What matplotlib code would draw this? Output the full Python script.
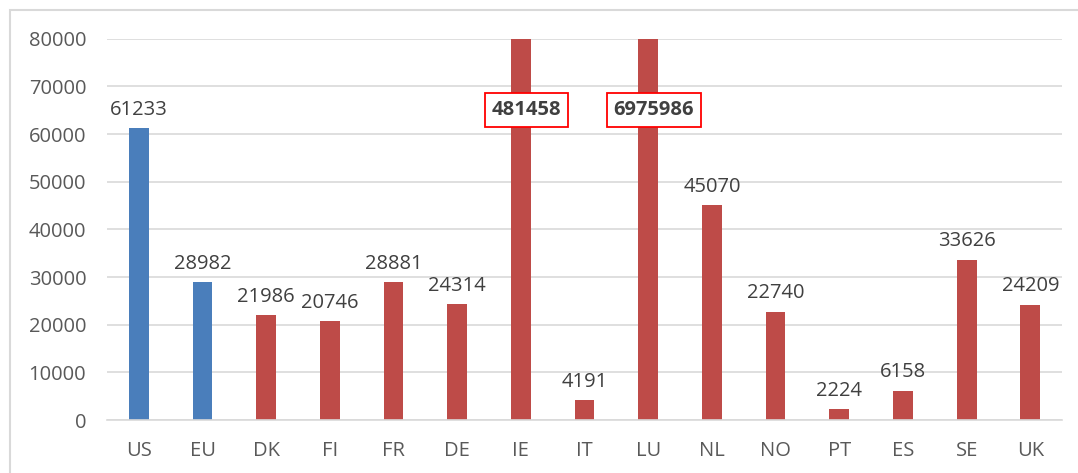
import matplotlib.pyplot as plt
from matplotlib.patches import Rectangle

countries = ['US', 'EU', 'DK', 'FI', 'FR', 'DE', 'IE', 'IT', 'LU', 'NL', 'NO', 'PT', 'ES', 'SE', 'UK']
values = [61233, 28982, 21986, 20746, 28881, 24314, 481458, 4191, 6975986, 45070, 22740, 2224, 6158, 33626, 24209]
blue_bars = ['US', 'EU']
yticks = [0, 10000, 20000, 30000, 40000, 50000, 60000, 70000, 80000]

plt.rcParams['font.family'] = ['Open Sans', 'DejaVu Sans']

fig = plt.figure(figsize=(10.78, 4.73), dpi=100)
ax = fig.add_axes([0.0993, 0.112, 0.886, 0.806])

# outer chart border
fig.patches.append(Rectangle((10 / 1078, -0.1), 1.2, 1 - 10 / 473 + 0.1,
                             transform=fig.transFigure, fill=False,
                             edgecolor='#D9D9D9', linewidth=1.5))

colors = ['#4A7EBB' if c in blue_bars else '#BE4B48' for c in countries]
x = range(len(countries))
ax.bar(x, values, width=0.31, color=colors, zorder=2)

ymax = yticks[-1]
ax.set_ylim(0, ymax)
ax.set_xlim(-0.5, len(countries) - 0.5)
ax.set_yticks(yticks)
ax.set_xticks(list(x))
ax.set_xticklabels(countries)
ax.grid(axis='y', color='#D9D9D9', linewidth=1.2, zorder=0)
ax.tick_params(axis='both', length=0, labelsize=14.5, colors='#595959')
ax.tick_params(axis='x', pad=15)
ax.tick_params(axis='y', pad=15)
for s in ['top', 'right', 'left']:
    ax.spines[s].set_visible(False)
ax.spines['bottom'].set_color('#D9D9D9')
ax.spines['bottom'].set_linewidth(1.2)

for i, v in enumerate(values):
    if v > ymax:
        # off-scale values: boxed label over the clipped bar
        ax.annotate(str(v), (i, 65000), xytext=(4, 0), textcoords='offset points',
                    ha='center', va='center', fontsize=14.5,
                    fontweight='bold', color='#404040', zorder=3,
                    bbox=dict(boxstyle='square,pad=0.35', facecolor='white',
                              edgecolor='#FF0000', linewidth=1.3))
    else:
        ax.annotate(str(v), (i, v), xytext=(0, 6), textcoords='offset points',
                    ha='center', va='bottom', fontsize=14.5, color='#404040')

fig.savefig('out.png', dpi=100)
